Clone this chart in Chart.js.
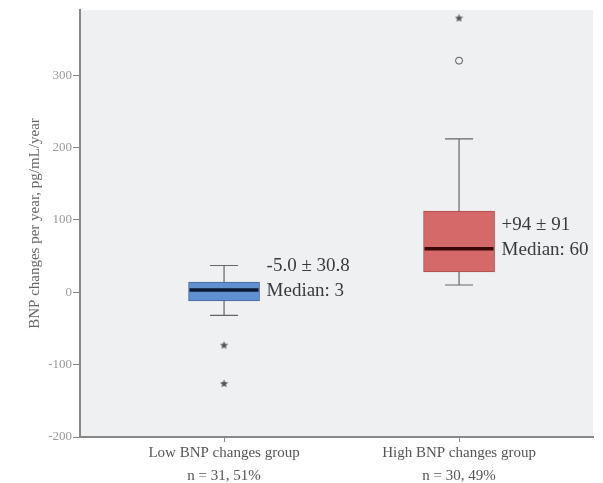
<!DOCTYPE html>
<html>
<head>
<meta charset="utf-8">
<script src="https://cdn.jsdelivr.net/npm/chart.js@4.4.1/dist/chart.umd.min.js"></script>
<style>
  html, body { margin: 0; padding: 0; background: #fff; }
  #wrap { width: 603px; height: 483px; }
</style>
</head>
<body>
<div id="wrap"><canvas id="boxChart" width="603" height="483"></canvas></div>
<script>
// data
var groups = ["Low BNP changes group", "High BNP changes group"];
var groupN = ["n = 31, 51%", "n = 30, 49%"];
var groupX = [1, 2];
var q1 = [-12, 28];
var median = [3, 60];
var q3 = [14, 112];
var whiskerLow = [-32, 10];
var whiskerHigh = [37, 212];
var outliers = [{x: 2, y: 320}];                                   // circles
var extremes = [{x: 1, y: -73}, {x: 1, y: -126}, {x: 2, y: 379}];  // stars
var meanSd = ["-5.0 \u00b1 30.8", "+94 \u00b1 91"];
var medianText = ["Median: 3", "Median: 60"];
var yTicks = [-200, -100, 0, 100, 200, 300];

var boxFill = ["#6190d0", "#d56868"];
var boxLine = ["#44679b", "#a84c4c"];
var medLine = ["#0b1833", "#3a0808"];
var serif = "'Liberation Serif', 'Times New Roman', serif";

// small filled star for extreme values
function makeStar(){
  var c = document.createElement("canvas");
  c.width = 9; c.height = 9;
  var g = c.getContext("2d");
  g.fillStyle = "#555";
  g.beginPath();
  for (var i = 0; i < 10; i++) {
    var r = i % 2 === 0 ? 4.3 : 1.9;
    var a = -Math.PI / 2 + i * Math.PI / 5;
    var px = 4.5 + r * Math.cos(a), py = 4.8 + r * Math.sin(a);
    if (i === 0) g.moveTo(px, py); else g.lineTo(px, py);
  }
  g.closePath();
  g.fill();
  return c;
}

var boxData = [];
for (var i = 0; i < groups.length; i++) {
  boxData.push({x: groupX[i], y: [q1[i], q3[i]]});
}

// grey plot background
var bgPlugin = {
  id: "plotBg",
  beforeDraw: function(chart){
    var a = chart.chartArea, ctx = chart.ctx;
    ctx.save();
    ctx.fillStyle = "#eff0f2";
    ctx.fillRect(a.left, a.top, a.right - a.left, a.bottom - a.top);
    ctx.restore();
  }
};

// whiskers, medians and the side notes
var boxPlugin = {
  id: "whiskers",
  beforeDatasetsDraw: function(chart){
    var ctx = chart.ctx, xs = chart.scales.x, ys = chart.scales.y;
    ctx.save();
    ctx.strokeStyle = "#666";
    ctx.lineWidth = 1.2;
    for (var i = 0; i < groups.length; i++) {
      var cx = xs.getPixelForValue(groupX[i]);
      var capHalf = 14;
      ctx.beginPath();
      ctx.moveTo(cx, ys.getPixelForValue(q3[i]));
      ctx.lineTo(cx, ys.getPixelForValue(whiskerHigh[i]));
      ctx.moveTo(cx - capHalf, ys.getPixelForValue(whiskerHigh[i]));
      ctx.lineTo(cx + capHalf, ys.getPixelForValue(whiskerHigh[i]));
      ctx.moveTo(cx, ys.getPixelForValue(q1[i]));
      ctx.lineTo(cx, ys.getPixelForValue(whiskerLow[i]));
      ctx.moveTo(cx - capHalf, ys.getPixelForValue(whiskerLow[i]));
      ctx.lineTo(cx + capHalf, ys.getPixelForValue(whiskerLow[i]));
      ctx.stroke();
    }
    ctx.restore();
  },
  afterDatasetsDraw: function(chart){
    var ctx = chart.ctx, ys = chart.scales.y;
    var bars = chart.getDatasetMeta(0).data;
    ctx.save();
    for (var i = 0; i < groups.length; i++) {
      var b = bars[i];
      var left = b.x - b.width / 2, right = b.x + b.width / 2;
      var my = ys.getPixelForValue(median[i]);
      ctx.strokeStyle = medLine[i];
      ctx.lineWidth = 3.5;
      ctx.beginPath();
      ctx.moveTo(left + 1, my);
      ctx.lineTo(right - 1, my);
      ctx.stroke();

      ctx.fillStyle = "#3a3a3a";
      ctx.font = "19px " + serif;
      ctx.textAlign = "left";
      ctx.textBaseline = "middle";
      ctx.fillText(meanSd[i], right + 7, my - 24);
      ctx.fillText(medianText[i], right + 7, my + 1);
    }
    ctx.restore();
  }
};

var ctxB = document.getElementById("boxChart").getContext("2d");
var boxChart = new Chart(ctxB, {
  type: "bar",
  data: {
    datasets: [{
      label: "box",
      data: boxData,
      backgroundColor: boxFill,
      borderColor: boxLine,
      borderWidth: 1,
      borderSkipped: false,
      barThickness: 71,
      order: 2
    }, {
      type: "scatter",
      label: "outliers",
      data: outliers,
      pointStyle: "circle",
      pointRadius: 3.5,
      backgroundColor: "rgba(0,0,0,0)",
      borderColor: "#555",
      borderWidth: 1,
      order: 1
    }, {
      type: "scatter",
      label: "extremes",
      data: extremes,
      pointStyle: makeStar(),
      order: 1
    }]
  },
  options: {
    responsive: false,
    animation: false,
    layout: { padding: { top: 10, right: 10, left: 26, bottom: 0 } },
    plugins: {
      legend: { display: false },
      tooltip: { enabled: false }
    },
    scales: {
      x: {
        type: "linear",
        min: 0.387,
        max: 2.57,
        offset: false,
        afterFit: function(s){ s.height = 46; },
        afterBuildTicks: function(s){
          s.ticks = groupX.map(function(v){ return {value: v}; });
        },
        ticks: {
          autoSkip: false,
          maxRotation: 0,
          color: "#555",
          font: { family: serif, size: 15, lineHeight: 1.5 },
          padding: 0,
          callback: function(v){
            var k = groupX.indexOf(v);
            return k < 0 ? "" : [groups[k], groupN[k]];
          }
        },
        grid: { offset: false, drawOnChartArea: false, drawTicks: true, tickLength: 5, color: "#888" },
        border: { color: "#888", width: 2 }
      },
      y: {
        min: -200,
        max: 390,
        afterFit: function(s){ s.width = 54; },
        afterBuildTicks: function(s){
          s.ticks = yTicks.map(function(v){ return {value: v}; });
        },
        ticks: {
          color: "#999",
          font: { family: serif, size: 13 },
          padding: 1
        },
        title: {
          display: true,
          text: "BNP changes per year, pg/mL/year",
          color: "#666",
          font: { family: serif, size: 15 },
          padding: { top: 0, bottom: 0 }
        },
        grid: { drawOnChartArea: false, drawTicks: true, tickLength: 7, color: "#888" },
        border: { color: "#888", width: 2 }
      }
    }
  },
  plugins: [bgPlugin, boxPlugin]
});
</script>
</body>
</html>
